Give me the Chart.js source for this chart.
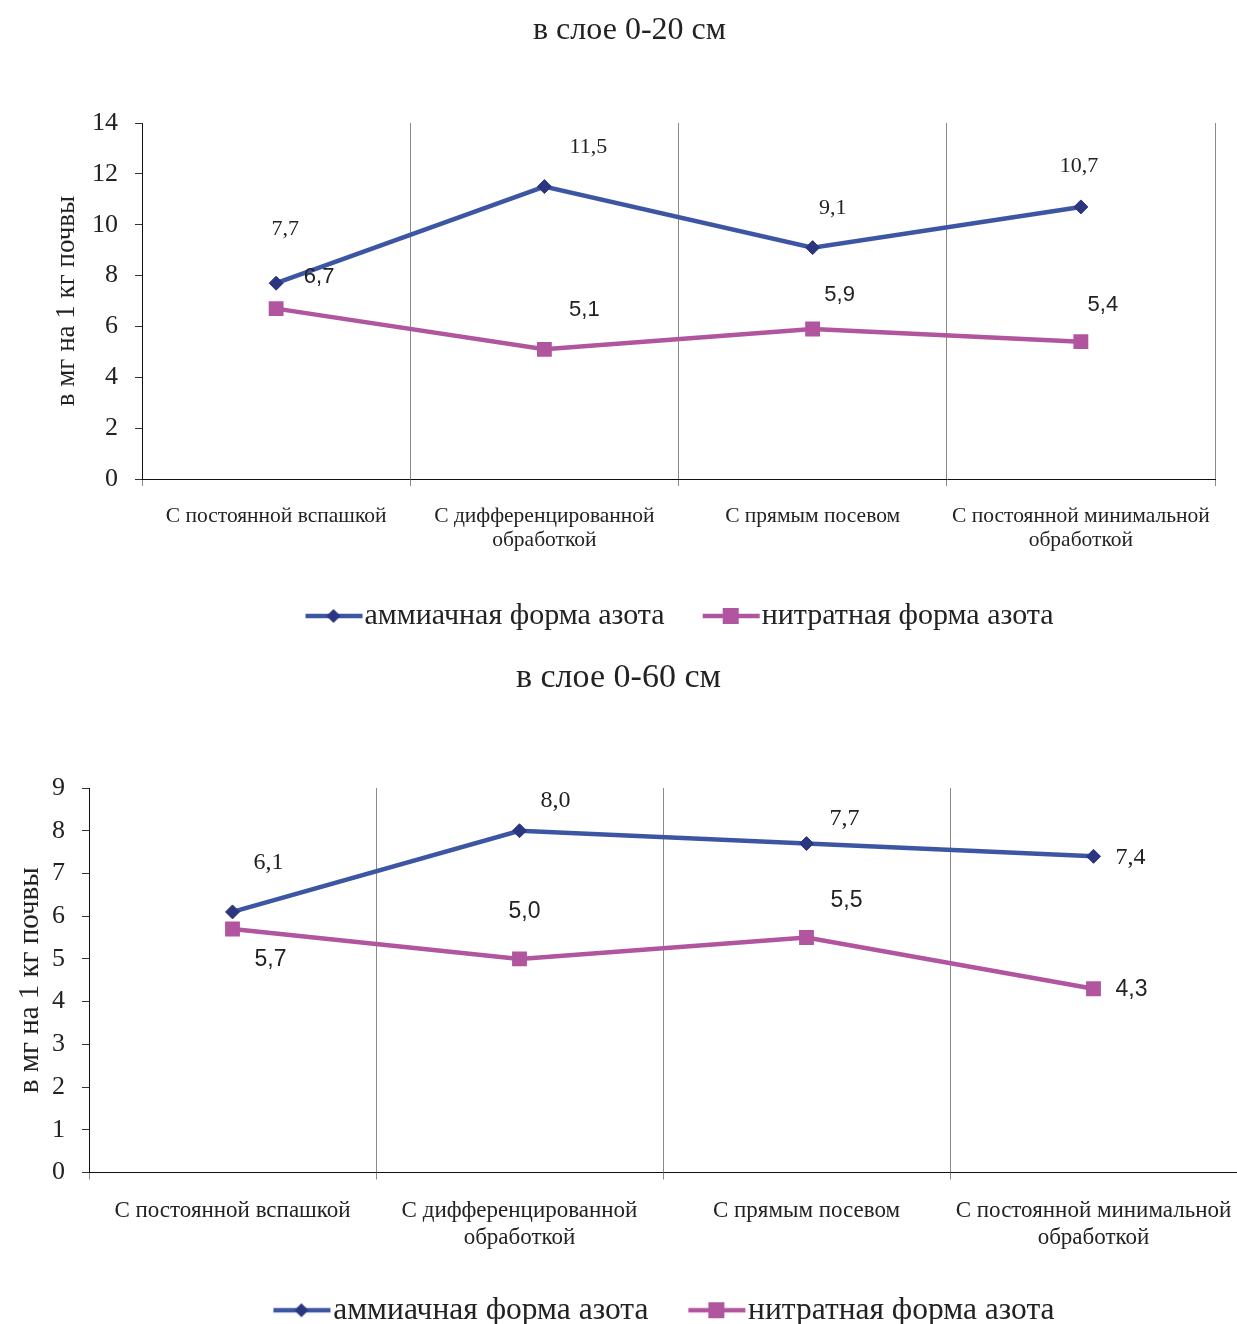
<!DOCTYPE html>
<html>
<head>
<meta charset="utf-8">
<script src="https://cdn.jsdelivr.net/npm/chart.js@4.4.1/dist/chart.umd.min.js"></script>
<style>
  body { margin: 0; background: #fff; overflow: hidden; }
  canvas { display: block; }
</style>
</head>
<body>
<canvas id="layer20" width="1237" height="645"></canvas>
<canvas id="layer60" width="1237" height="700"></canvas>
<script>
// Data
const categories = [
    "С постоянной вспашкой",
    ["С дифференцированной", "обработкой"],
    "С прямым посевом",
    ["С постоянной минимальной", "обработкой"]
];
const seriesNames = ["аммиачная форма азота", "нитратная форма азота"];
const ammonia20 = [7.7, 11.5, 9.1, 10.7];
const nitrate20 = [6.7, 5.1, 5.9, 5.4];
const ammonia60 = [6.1, 8.0, 7.7, 7.4];
const nitrate60 = [5.7, 5.0, 5.5, 4.3];
const yTicks20 = [0, 14, 2];   // min, max, step
const yTicks60 = [0, 9, 1];
const yTitle = "в мг на 1 кг почвы";

const SERIF = "'Liberation Serif', 'Times New Roman', serif";
const SANS = "'Liberation Sans', Arial, sans-serif";
const BLUE = "#3d56a3";
const NAVY = "#2c3680";
const PINK = "#b0559e";
const TEXT = "#222";

// legend icon: line with marker in the middle (like the office chart)
// canvas is wider than the legend box, the drawing sits on its right part
function legendIcon(color, fill, kind) {
    const c = document.createElement("canvas");
    c.width = 74;
    c.height = 18;
    const g = c.getContext("2d");
    g.strokeStyle = color;
    g.lineWidth = 4.5;
    g.beginPath();
    g.moveTo(16, 9);
    g.lineTo(73, 9);
    g.stroke();
    g.fillStyle = fill;
    if (kind === "diamond") {
        g.beginPath();
        g.moveTo(44, 2);
        g.lineTo(51, 9);
        g.lineTo(44, 16);
        g.lineTo(37, 9);
        g.closePath();
        g.fill();
    } else {
        g.fillRect(36, 1, 16, 16);
    }
    return c;
}

// value labels next to points
const valueLabels = {
    id: "valueLabels",
    afterDatasetsDraw(chart) {
        const ctx = chart.ctx;
        chart.data.datasets.forEach((ds, i) => {
            const meta = chart.getDatasetMeta(i);
            ctx.save();
            ctx.font = ds.labelFont;
            ctx.fillStyle = TEXT;
            ctx.textAlign = "center";
            ctx.textBaseline = "middle";
            meta.data.forEach((pt, j) => {
                const shift = ds.labelShift[j];
                ctx.fillText(ds.data[j].toFixed(1).replace(".", ","), pt.x + shift[0], pt.y + shift[1]);
            });
            ctx.restore();
        });
    }
};

function makeChart(id, o) {
    return new Chart(document.getElementById(id), {
        type: "line",
        data: {
            labels: categories,
            datasets: [
                {
                    label: seriesNames[0],
                    data: o.amm,
                    borderColor: BLUE,
                    backgroundColor: NAVY,
                    pointBorderColor: NAVY,
                    borderWidth: 4.5,
                    pointStyle: "rectRot",
                    pointRadius: 7,
                    pointBorderWidth: 1,
                    tension: 0,
                    legendIcon: legendIcon(BLUE, NAVY, "diamond"),
                    labelFont: o.ammFont,
                    labelShift: o.ammShift
                },
                {
                    label: seriesNames[1],
                    data: o.nit,
                    borderColor: PINK,
                    backgroundColor: PINK,
                    borderWidth: 4.5,
                    pointStyle: "rect",
                    pointRadius: 10.5,
                    pointBorderWidth: 0,
                    tension: 0,
                    legendIcon: legendIcon(PINK, PINK, "square"),
                    labelFont: o.nitFont,
                    labelShift: o.nitShift
                }
            ]
        },
        options: {
            responsive: false,
            animation: false,
            layout: { padding: o.padding, autoPadding: false },
            plugins: {
                title: {
                    display: true,
                    text: o.title,
                    color: TEXT,
                    font: { family: SERIF, size: o.titleSize, weight: "normal" },
                    padding: o.titlePad
                },
                legend: {
                    position: "bottom",
                    fullSize: false,
                    labels: {
                        usePointStyle: true,
                        pointStyleWidth: 46,
                        padding: o.legendGap,
                        color: TEXT,
                        font: { family: SERIF, size: o.legendSize },
                        generateLabels: (chart) => chart.data.datasets.map((ds, i) => ({
                            text: ds.label,
                            pointStyle: ds.legendIcon,
                            fillStyle: ds.borderColor,
                            strokeStyle: ds.borderColor,
                            fontColor: TEXT,
                            lineWidth: 0,
                            hidden: false,
                            datasetIndex: i
                        }))
                    }
                },
                tooltip: { enabled: false }
            },
            scales: {
                x: {
                    offset: true,
                    grid: { offset: true, color: "#8a8a8a", tickLength: 7, lineWidth: 1 },
                    border: { color: "#111", width: 1 },
                    ticks: {
                        color: TEXT,
                        padding: o.xPad,
                        maxRotation: 0,
                        autoSkip: false,
                        font: { family: SERIF, size: o.xSize, lineHeight: o.xLine }
                    },
                    afterFit: (s) => {
                        s.height = o.xHeight;
                        s.paddingLeft = 0;
                        s.paddingRight = 0;
                    }
                },
                y: {
                    min: o.yTicks[0],
                    max: o.yTicks[1],
                    grid: { drawOnChartArea: false, color: "#333", tickLength: 7 },
                    border: { color: "#111", width: 1 },
                    ticks: {
                        stepSize: o.yTicks[2],
                        color: TEXT,
                        padding: 17,
                        font: { family: SERIF, size: 26 }
                    },
                    title: {
                        display: true,
                        text: yTitle,
                        color: TEXT,
                        font: { family: SERIF, size: o.yTitleSize },
                        padding: { top: o.yTitlePad, bottom: 0 }
                    },
                    afterFit: (s) => { s.width = o.yWidth; }
                }
            }
        },
        plugins: [valueLabels]
    });
}

makeChart("layer20", {
    title: "в слое 0-20 см",
    amm: ammonia20,
    nit: nitrate20,
    yTicks: yTicks20,
    padding: { left: 44, right: 22, top: 0, bottom: 4 },
    titleSize: 32,
    titlePad: { top: 11, bottom: 73.6 },
    legendSize: 30,
    legendGap: 36,
    xSize: 21.5,
    xLine: 1.12,
    xPad: 18,
    xHeight: 86,
    yWidth: 98,
    yTitleSize: 27,
    yTitlePad: 7,
    ammFont: "22px " + SERIF,
    nitFont: "22px " + SANS,
    ammShift: [[9, -54], [44, -39], [20, -39], [-2, -41]],
    nitShift: [[43, -32], [40, -39], [27, -34], [22, -37]]
});

makeChart("layer60", {
    title: "в слое 0-60 см",
    amm: ammonia60,
    nit: nitrate60,
    yTicks: yTicks60,
    padding: { left: 0, right: 0, top: 0, bottom: 9 },
    titleSize: 34,
    titlePad: { top: 13, bottom: 89.2 },
    legendSize: 31.5,
    legendGap: 38,
    xSize: 23,
    xLine: 1.17,
    xPad: 18,
    xHeight: 84,
    yWidth: 89,
    yTitleSize: 29,
    yTitlePad: 12.6,
    ammFont: "24px " + SERIF,
    nitFont: "23px " + SANS,
    ammShift: [[36, -49], [36, -30], [38, -25], [37, 1]],
    nitShift: [[38, 31], [5, -47], [40, -37], [38, 1]]
});
</script>
</body>
</html>
